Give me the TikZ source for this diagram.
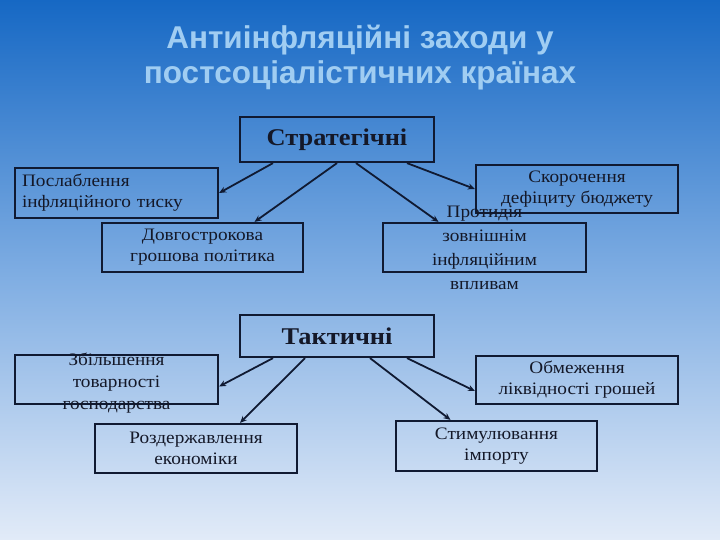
\documentclass[tikz,border=0pt]{standalone}
\usepackage{fontspec}
\setmainfont{Liberation Serif}[FakeStretch=1.1]
\newfontfamily\titlefont{Liberation Sans}
\usetikzlibrary{arrows.meta,calc}
\definecolor{bgtop}{RGB}{22,104,196}
\definecolor{bgmid}{RGB}{125,172,226}
\definecolor{bgbot}{RGB}{226,235,248}
\definecolor{titlecol}{RGB}{160,205,242}
\definecolor{edge}{RGB}{16,26,50}
\definecolor{ink}{RGB}{20,24,40}
\tikzset{
  box/.style={draw=edge, line width=2.2pt, inner sep=2pt, text=ink, font=\fontsize{17.5}{21}\selectfont, align=center},
  headbox/.style={box, font=\fontsize{24}{28}\selectfont\bfseries},
  arr/.style={draw=edge, line width=1.8pt, -{Stealth[length=7pt,width=6pt]}},
}
\begin{document}
\begin{tikzpicture}[x=1pt,y=-1pt]
\shade[top color=bgtop, bottom color=bgbot, middle color=bgmid] (0,0) rectangle (720,540);
\useasboundingbox (0,0) rectangle (720,540);
\node[font=\titlefont\fontsize{31.5}{35}\selectfont\bfseries, text=titlecol, align=center] (title) at (360,58)
  {Антиінфляційні заходи у\\постсоціалістичних країнах};

\node[headbox, minimum width=194pt, minimum height=45pt] (strat) at (337,139.5) {Стратегічні};
\node[box, minimum width=203pt, minimum height=50pt, text width=189pt, align=left] (posl) at (116.5,193)
  {Послаблення\\інфляційного тиску};
\node[box, minimum width=201pt, minimum height=49pt] (dovh) at (202.5,247.5) {Довгострокова\\грошова політика};
\node[box, minimum width=202pt, minimum height=48pt] (skor) at (577,189) {Скорочення\\дефіциту бюджету};
\node[box, minimum width=203pt, minimum height=49pt] (prot) at (484.5,247.5)
  {\smash{\raisebox{-6pt}{\begin{tabular}{@{}c@{}}Протидія\\[3pt]зовнішнім\\[3pt]інфляційним\\[3pt]впливам\end{tabular}}}};

\node[headbox, minimum width=194pt, minimum height=42pt] (takt) at (337,336) {Тактичні};
\node[box, minimum width=203pt, minimum height=49pt] (zbil) at (116.5,379.5)
  {\smash{\raisebox{-8pt}{\begin{tabular}{@{}c@{}}Збільшення\\[1pt]товарності\\[1pt]господарства\end{tabular}}}};
\node[box, minimum width=202pt, minimum height=49pt] (rozd) at (196,448.5) {Роздержавлення\\економіки};
\node[box, minimum width=202pt, minimum height=48pt] (obm) at (577,380) {Обмеження\\ліквідності грошей};
\node[box, minimum width=201pt, minimum height=50pt] (stym) at (496.5,446) {Стимулювання\\імпорту};

\draw[arr] ([xshift=-64pt]strat.south) -- (posl.east);
\draw[arr] (strat.south) -- ([xshift=52pt]dovh.north);
\draw[arr] ([xshift=70pt]strat.south) -- (skor.west);
\draw[arr] ([xshift=19pt]strat.south) -- ([xshift=-46pt]prot.north);

\draw[arr] ([xshift=-64pt]takt.south) -- ([yshift=-7pt]zbil.east);
\draw[arr] ([xshift=-32pt]takt.south) -- ([xshift=44pt]rozd.north);
\draw[arr] ([xshift=70pt]takt.south) -- ([yshift=-11pt]obm.west);
\draw[arr] ([xshift=33pt]takt.south) -- ([xshift=-46pt]stym.north);
\end{tikzpicture}
\end{document}
